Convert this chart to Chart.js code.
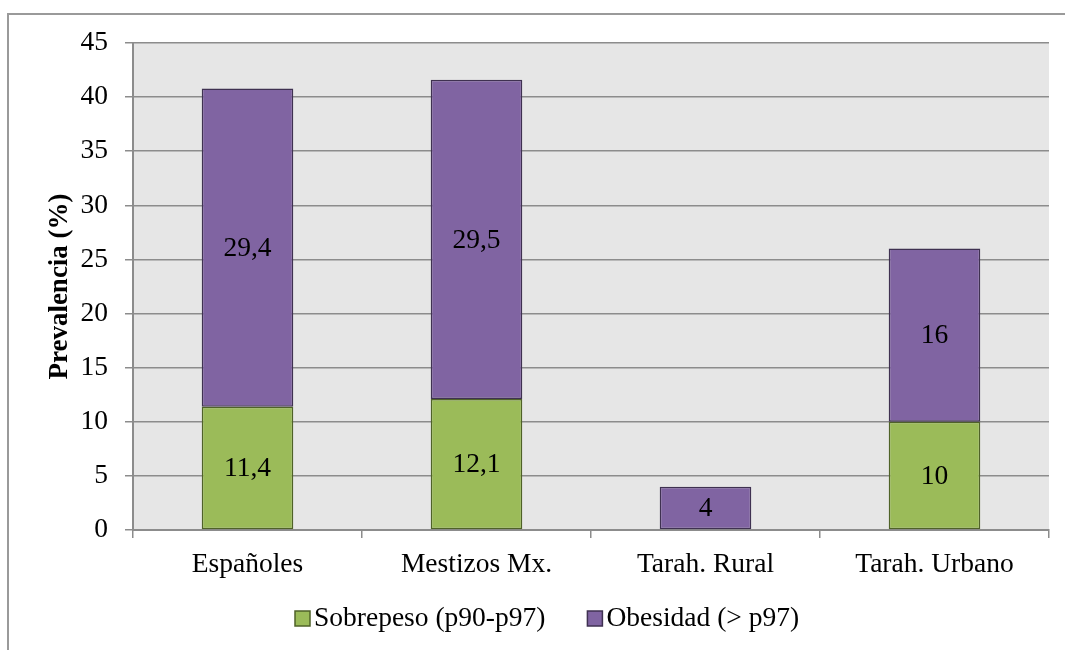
<!DOCTYPE html>
<html>
<head>
<meta charset="utf-8">
<script src="https://cdn.jsdelivr.net/npm/chart.js@4.4.1/dist/chart.umd.min.js"></script>
<style>
  html, body { margin: 0; padding: 0; background: #ffffff; overflow: hidden; }
  #wrap { position: relative; width: 1065px; height: 650px; }
  canvas { display: block; }
</style>
</head>
<body>
<div id="wrap"><canvas id="chart" width="1065" height="650"></canvas></div>
<script>
// Prevalence of overweight and obesity by population group
const categories = ['Españoles', 'Mestizos Mx.', 'Tarah. Rural', 'Tarah. Urbano'];
const sobrepeso = [11.4, 12.1, 0, 10];
const obesidad = [29.4, 29.5, 4, 16];
const yTicks = [0, 5, 10, 15, 20, 25, 30, 35, 40, 45];
const seriesNames = ['Sobrepeso (p90-p97)', 'Obesidad (> p97)'];

const SERIF = '"Liberation Serif", "Times New Roman", serif';
const FS = 27.5;
const GRID = '#8c8c8c';

// Outer frame and plot background
const framePlugin = {
  id: 'frame',
  beforeDraw(chart) {
    const { ctx, chartArea: a } = chart;
    ctx.save();
    ctx.fillStyle = '#e6e6e6';
    ctx.fillRect(a.left, a.top, a.right - a.left, a.bottom - a.top);
    ctx.strokeStyle = '#9a9a9a';
    ctx.lineWidth = 2;
    ctx.strokeRect(8, 14, 1100, 700);
    ctx.restore();
  }
};

// Value labels centred in each bar segment (decimal comma)
const valueLabels = {
  id: 'valueLabels',
  afterDatasetsDraw(chart) {
    const { ctx } = chart;
    ctx.save();
    ctx.font = FS + 'px ' + SERIF;
    ctx.fillStyle = '#000000';
    ctx.textAlign = 'center';
    ctx.textBaseline = 'middle';
    chart.data.datasets.forEach((ds, i) => {
      const meta = chart.getDatasetMeta(i);
      meta.data.forEach((bar, j) => {
        const v = ds.data[j];
        if (!v) return;
        const y = (bar.y + bar.base) / 2;
        ctx.fillText(String(v).replace('.', ','), bar.x, y + 1);
      });
    });
    ctx.restore();
  }
};

// Legend row under the axis: small square swatch right next to the series name
const legendRow = {
  id: 'legendRow',
  afterDraw(chart) {
    const { ctx } = chart;
    const box = 15, textGap = 4, itemGap = 42, cy = 618, cx = 547;
    ctx.save();
    ctx.font = FS + 'px ' + SERIF;
    const items = chart.data.datasets.map(ds => ({
      ds, w: ctx.measureText(ds.label).width
    }));
    const total = items.reduce((s, it) => s + box + textGap + it.w, 0) + itemGap * (items.length - 1);
    let x = Math.round(cx - total / 2);
    items.forEach(it => {
      const top = Math.round(cy - box / 2);
      ctx.fillStyle = it.ds.backgroundColor;
      ctx.fillRect(x, top, box, box);
      ctx.strokeStyle = it.ds.borderColor;
      ctx.lineWidth = 1.5;
      ctx.strokeRect(x, top, box, box);
      ctx.fillStyle = '#000000';
      ctx.textAlign = 'left';
      ctx.textBaseline = 'middle';
      ctx.fillText(it.ds.label, x + box + textGap, cy + 1);
      x += box + textGap + it.w + itemGap;
    });
    ctx.restore();
  }
};

new Chart(document.getElementById('chart'), {
  type: 'bar',
  data: {
    labels: categories,
    datasets: [
      {
        label: seriesNames[0],
        data: sobrepeso,
        backgroundColor: '#9bbb59',
        borderColor: '#4f6228',
        borderWidth: 1.5,
        borderSkipped: false
      },
      {
        label: seriesNames[1],
        data: obesidad,
        backgroundColor: '#8064a2',
        borderColor: '#3f3151',
        borderWidth: 1.5,
        borderSkipped: false
      }
    ]
  },
  options: {
    responsive: false,
    animation: false,
    devicePixelRatio: 1,
    layout: { padding: { left: 0, top: 43, right: 16, bottom: 70 } },
    datasets: { bar: { barPercentage: 0.4, categoryPercentage: 1.0 } },
    plugins: {
      tooltip: { enabled: false },
      legend: { display: false }
    },
    scales: {
      x: {
        stacked: true,
        afterFit(scale) { scale.height = 50; },
        grid: {
          offset: true,
          drawOnChartArea: false,
          drawTicks: true,
          tickLength: 8,
          color: GRID,
          lineWidth: 1.5
        },
        border: { color: GRID, width: 2 },
        ticks: {
          font: { family: SERIF, size: FS },
          color: '#000000',
          padding: 10,
          maxRotation: 0
        }
      },
      y: {
        stacked: true,
        min: 0,
        max: 45,
        afterFit(scale) { scale.width = 133; },
        afterBuildTicks(scale) { scale.ticks = yTicks.map(v => ({ value: v })); },
        grid: {
          color: GRID,
          lineWidth: 1.5,
          drawTicks: true,
          tickLength: 8
        },
        border: { color: GRID, width: 2 },
        ticks: {
          font: { family: SERIF, size: FS },
          color: '#000000',
          padding: 17
        },
        title: {
          display: true,
          text: 'Prevalencia (%)',
          font: { family: SERIF, size: 27, weight: 'bold' },
          color: '#000000',
          padding: { top: 44, bottom: 0 }
        }
      }
    }
  },
  plugins: [framePlugin, valueLabels, legendRow]
});
</script>
</body>
</html>
